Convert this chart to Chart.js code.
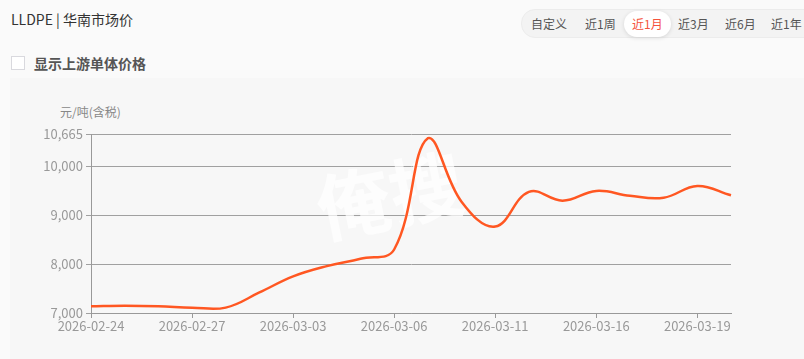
<!DOCTYPE html>
<html>
<head>
<meta charset="utf-8">
<script src="https://cdn.jsdelivr.net/npm/chart.js@4/dist/chart.umd.min.js"></script>
<style>
  html, body { margin: 0; padding: 0; background: #fafafa; }
  body { width: 804px; height: 359px; position: relative; overflow: hidden; font-family: "Noto Sans CJK SC", "Noto Sans", sans-serif; }
  .title { position: absolute; left: 11px; top: 9px; font-size: 14px; color: #333; }
  .check { position: absolute; left: 11px; top: 53px; font-size: 14px; color: #555; font-weight: bold; }
  .check .box { display: inline-block; width: 12px; height: 12px; border: 1px solid #d9d9de; background: #fff; vertical-align: -1px; margin-right: 9px; }
  .tabs { position: absolute; left: 521px; top: 9px; width: 300px; height: 27px; border-radius: 14px; background: #f3f3f3; border: 1px solid #ececec; font-size: 12px; color: #555; }
  .tabs span { position: absolute; top: 5px; }
  .tabs .on { top: 1px; height: 26px; line-height: 26px; padding: 0 8px; border-radius: 13px; background: #fff; color: #f5533d; box-shadow: 0 1px 4px rgba(0,0,0,0.12); }
  .panel { position: absolute; left: 10px; top: 78px; width: 794px; height: 281px; background: #f7f7f7; }
  .unit { position: absolute; left: 60px; top: 103px; font-size: 12px; color: #888; }
  canvas { position: absolute; left: 0; top: 0; }
</style>
</head>
<body>
<div class="title">LLDPE | 华南市场价</div>
<div class="check"><span class="box"></span>显示上游单体价格</div>
<div class="tabs">
  <span style="left:9px">自定义</span>
  <span style="left:63px">近1周</span>
  <span class="on" style="left:102px">近1月</span>
  <span style="left:156px">近3月</span>
  <span style="left:203px">近6月</span>
  <span style="left:249px">近1年</span>
</div>
<div class="panel"></div>
<div class="unit">元/吨(含税)</div>
<canvas id="c" width="804" height="359"></canvas>
<script>
const dates = ['2026-02-24', '2026-02-25', '2026-02-26', '2026-02-27', '2026-02-28', '2026-03-02', '2026-03-03',
  '2026-03-04', '2026-03-05', '2026-03-06', '2026-03-09', '2026-03-10', '2026-03-11', '2026-03-12', '2026-03-13',
  '2026-03-16', '2026-03-17', '2026-03-18', '2026-03-19', '2026-03-20'];
const prices = [7140, 7150, 7140, 7110, 7110, 7420, 7750, 7960, 8110, 8300, 10580, 9280, 8770, 9480, 9300,
  9500, 9400, 9360, 9600, 9410];
const yTicks = [7000, 8000, 9000, 10000, 10665];

const watermark = {
  id: 'watermark',
  beforeDatasetsDraw(chart) {
    const ctx = chart.ctx;
    ctx.save();
    ctx.translate(390, 196);
    ctx.rotate(-0.2);
    ctx.fillStyle = 'rgba(255,255,255,0.7)';
    ctx.font = 'bold 74px "Noto Sans CJK SC"';
    ctx.textAlign = 'center';
    ctx.textBaseline = 'middle';
    ctx.fillText('俺搜', 0, 0);
    ctx.restore();
  }
};

const tickFont = { family: '"Noto Sans CJK SC"', size: 13 };

new Chart(document.getElementById('c'), {
  type: 'line',
  data: {
    labels: dates,
    datasets: [{
      data: prices,
      borderColor: '#ff5722',
      borderWidth: 2.5,
      pointRadius: 0,
      tension: 0.4,
      fill: false
    }]
  },
  options: {
    responsive: false,
    animation: false,
    layout: { padding: { left: 0, right: 73, top: 134, bottom: 0 } },
    plugins: { legend: { display: false }, tooltip: { enabled: false } },
    scales: {
      x: {
        afterFit: s => { s.height = 46; },
        afterBuildTicks: s => { s.ticks = s.ticks.filter((t, i) => i % 3 === 0); },
        grid: { drawOnChartArea: false, tickLength: 5, color: '#999' },
        border: { color: '#999' },
        ticks: { autoSkip: false, maxRotation: 0, padding: 0, color: '#999', font: tickFont }
      },
      y: {
        min: 7000,
        max: 10665,
        afterFit: s => { s.width = 91; },
        afterBuildTicks: s => { s.ticks = yTicks.map(v => ({ value: v })); },
        grid: { color: '#a0a0a0', tickLength: 5 },
        border: { color: '#999' },
        ticks: {
          padding: 3,
          color: '#999',
          font: tickFont,
          callback: v => v.toLocaleString('en-US')
        }
      }
    }
  },
  plugins: [watermark]
});
</script>
</body>
</html>
